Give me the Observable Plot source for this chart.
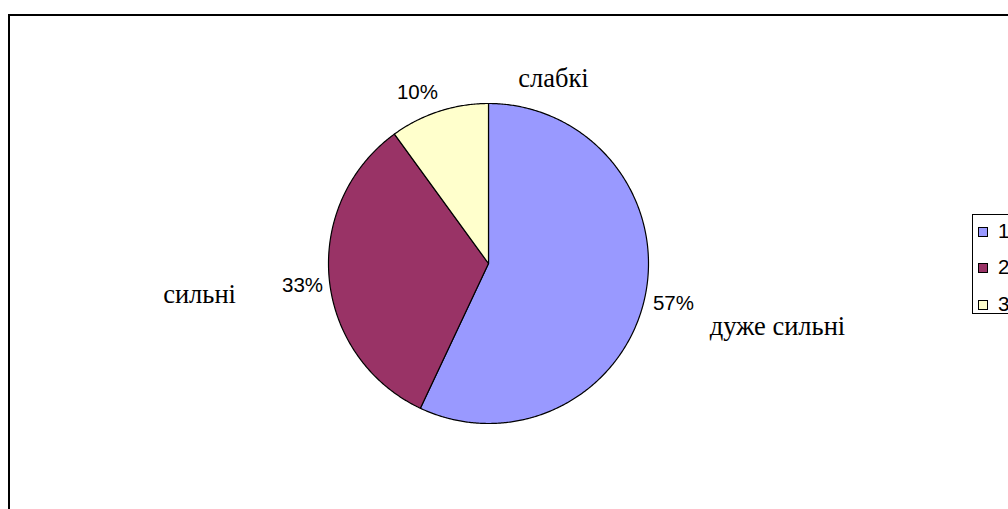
<!DOCTYPE html>
<html>
<head>
<meta charset="utf-8">
<script src="https://cdn.jsdelivr.net/npm/d3@7"></script>
<script src="https://cdn.jsdelivr.net/npm/@observablehq/plot@0.6"></script>
<style>
  html, body { margin: 0; padding: 0; background: #fff; }
  #wrap { position: relative; width: 1008px; height: 509px; overflow: hidden; }
  #frame { position: absolute; left: 8px; top: 14px; width: 1100px; height: 600px; border: 2px solid #000; box-sizing: border-box; }
  #chart { position: absolute; left: 0; top: 0; }
  #legend { position: absolute; left: 972px; top: 214px; width: 80px; height: 100px; border: 1px solid #000; box-sizing: border-box; background: #fff; font-family: "Liberation Sans", Arial, sans-serif; font-size: 20.5px; }
  .item { position: absolute; left: 0; height: 20px; line-height: 20px; }
  .sw { position: absolute; left: 5px; top: 5px; width: 8px; height: 8px; border: 1px solid #000; }
  .lab { position: absolute; left: 25px; top: -1px; color: #000; }
  #chart svg g.pct text { font-family: "Liberation Sans", Arial, sans-serif !important; font-size: 20.5px !important; }
  #chart svg g.cat text { font-family: "Liberation Serif", "Times New Roman", serif !important; font-size: 26.5px !important; }
</style>
</head>
<body>
<div id="wrap">
  <div id="frame"></div>
  <div id="chart"></div>
  <div id="legend"></div>
</div>
<script>
// ---- data ----
const categories = ["дуже сильні", "сильні", "слабкі"];
const legendKeys = ["1", "2", "3"];
const values = [57, 33, 10];
const colors = ["#9999FF", "#993366", "#FFFFCC"];

// ---- layout (radius units, relative to pie centre) ----
const pctPos = [[1.156, -0.25], [-1.1625, -0.1375], [-0.444, 1.069]];
const catPos = [[1.806, -0.394], [-1.806, -0.194], [0.406, 1.156]];

const W = 1008, H = 509;
const cx = 488, cy = 263, R = 160;

const arcs = d3.pie().sort(null).value(d => d)(values);

function slicePoints(a, i) {
  const pts = [{x: 0, y: 0, k: i}];
  const n = Math.max(2, Math.ceil((a.endAngle - a.startAngle) / (Math.PI / 360)));
  for (let j = 0; j <= n; j++) {
    const t = a.startAngle + (a.endAngle - a.startAngle) * j / n;
    pts.push({x: Math.sin(t), y: Math.cos(t), k: i});
  }
  pts.push({x: 0, y: 0, k: i});
  return pts;
}

const sliceMarks = arcs.map((a, i) =>
  Plot.line(slicePoints(a, i), {x: "x", y: "y", fill: colors[i], stroke: "#000", strokeWidth: 1.2, curve: "linear", strokeLinejoin: "round"})
);

const total = d3.sum(values);
const pctLabels = values.map((v, i) => ({x: pctPos[i][0], y: pctPos[i][1], t: Math.round(v / total * 100) + "%"}));
const catLabels = categories.map((c, i) => ({x: catPos[i][0], y: catPos[i][1], t: c}));

const chart = Plot.plot({
  width: W,
  height: H,
  margin: 0,
  x: {domain: [-cx / R, (W - cx) / R], axis: null},
  y: {domain: [-(H - cy) / R, cy / R], axis: null},
  style: {background: "transparent", overflow: "visible"},
  marks: [
    ...sliceMarks,
    Plot.text(pctLabels, {x: "x", y: "y", text: "t", fill: "#000"}),
    Plot.text(catLabels, {x: "x", y: "y", text: "t", fill: "#000"})
  ]
});
// tag the two text layers so their fonts can be styled
const textGroups = chart.querySelectorAll("g[aria-label='text']");
if (textGroups[0]) textGroups[0].classList.add("pct");
if (textGroups[1]) textGroups[1].classList.add("cat");
document.getElementById("chart").appendChild(chart);

// legend
const legend = document.getElementById("legend");
const rowTops = [7, 43, 80];
legendKeys.forEach((k, i) => {
  const item = document.createElement("div");
  item.className = "item";
  item.style.top = rowTops[i] + "px";
  item.innerHTML = `<span class="sw" style="background:${colors[i]}"></span><span class="lab">${k}</span>`;
  legend.appendChild(item);
});
</script>
</body>
</html>
